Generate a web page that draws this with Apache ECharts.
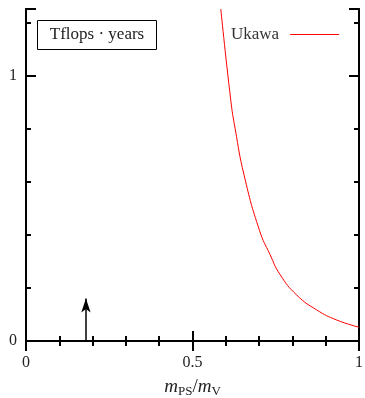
<!DOCTYPE html>
<html>
<head>
<meta charset="utf-8">
<script src="https://cdn.jsdelivr.net/npm/echarts@6/dist/echarts.min.js"></script>
<style>
  html, body { margin: 0; padding: 0; background: #fff; }
</style>
</head>
<body>
<div id="main" style="width: 365px; height: 398px;"></div>
<script>
// Ukawa cost curve (x = mPS/mV, y = Tflops*years)
var ukawaX = [0.585, 0.615, 0.628, 0.655, 0.701, 0.733, 0.763, 0.813, 0.873, 0.933, 1.0];
var ukawaY = [1.25, 0.906, 0.80, 0.624, 0.417, 0.325, 0.25, 0.173, 0.117, 0.079, 0.052];

// arrow marking the physical point
var arrowX = 0.18;
var arrowY = [0, 0.16];

var xLabels = [0, 0.5, 1];
var yLabels = [0, 1];

var serif = '"Liberation Serif", "DejaVu Serif", serif';

var myChart = echarts.init(document.getElementById('main'));

var ukawaData = [];
for (var i = 0; i < ukawaX.length; i++) {
    ukawaData.push([ukawaX[i], ukawaY[i]]);
}

function xFmt(v) {
    for (var i = 0; i < xLabels.length; i++) {
        if (Math.abs(v - xLabels[i]) < 1e-6) return String(xLabels[i]);
    }
    return '';
}
function yFmt(v) {
    for (var i = 0; i < yLabels.length; i++) {
        if (Math.abs(v - yLabels[i]) < 1e-6) return String(yLabels[i]);
    }
    return '';
}

var axisLine = { show: true, lineStyle: { color: '#000', width: 2 } };

var option = {
    animation: false,
    grid: { left: 26, width: 333, top: 9, height: 332, containLabel: false, outerBoundsMode: 'none' },
    legend: {
        data: [{ name: 'Ukawa', icon: 'rect' }],
        left: 226,
        top: 21,
        align: 'right',
        itemWidth: 49,
        itemHeight: 1.2,
        itemGap: 10,
        itemStyle: { color: '#ff0000' },
        lineStyle: { color: '#ff0000' },
        textStyle: { fontFamily: serif, fontSize: 17, color: '#333', padding: [0, 6, 0, 0] }
    },
    xAxis: [
        {
            type: 'value', position: 'bottom', min: 0, max: 1, interval: 0.5,
            axisLine: axisLine,
            axisTick: { inside: true, length: 10, lineStyle: { color: '#000', width: 2 } },
            minorTick: { show: true, splitNumber: 5, length: 5, lineStyle: { color: '#000', width: 2 } },
            splitLine: { show: false },
            axisLabel: { margin: 14, formatter: xFmt, fontFamily: serif, fontSize: 16, color: '#222' },
            name: '{i|m}{s|PS}{n|/}{i|m}{s|V}',
            nameLocation: 'middle',
            nameGap: 35,
            nameTextStyle: {
                rich: {
                    i: { fontFamily: serif, fontStyle: 'italic', fontSize: 19, color: '#222', lineHeight: 22 },
                    n: { fontFamily: serif, fontSize: 19, color: '#222', lineHeight: 22 },
                    s: { fontFamily: serif, fontSize: 13, color: '#222', lineHeight: 12, verticalAlign: 'bottom' }
                }
            }
        },
        {
            type: 'value', position: 'top', min: 0, max: 1, interval: 0.5,
            axisLine: axisLine,
            axisTick: { inside: true, length: 10, lineStyle: { color: '#000', width: 2 } },
            minorTick: { show: true, splitNumber: 5, length: 5, lineStyle: { color: '#000', width: 2 } },
            splitLine: { show: false },
            axisLabel: { show: false }
        }
    ],
    yAxis: [
        {
            type: 'value', position: 'left', min: 0, max: 1.25, interval: 0.2,
            axisLine: axisLine,
            axisTick: { inside: true, length: 5, lineStyle: { color: '#000', width: 2 } },
            splitLine: { show: false },
            axisLabel: { show: false }
        },
        {
            type: 'value', position: 'left', min: 0, max: 1.25, interval: 1,
            axisLine: axisLine,
            axisTick: { inside: true, length: 10, lineStyle: { color: '#000', width: 2 } },
            splitLine: { show: false },
            axisLabel: { margin: 9, formatter: yFmt, fontFamily: serif, fontSize: 16, color: '#222' }
        },
        {
            type: 'value', position: 'right', min: 0, max: 1.25, interval: 0.2,
            axisLine: axisLine,
            axisTick: { inside: true, length: 5, lineStyle: { color: '#000', width: 2 } },
            splitLine: { show: false },
            axisLabel: { show: false }
        },
        {
            type: 'value', position: 'right', min: 0, max: 1.25, interval: 1,
            axisLine: axisLine,
            axisTick: { inside: true, length: 10, lineStyle: { color: '#000', width: 2 } },
            splitLine: { show: false },
            axisLabel: { show: false }
        }
    ],
    graphic: [
        {
            type: 'rect',
            shape: { x: 37.5, y: 20.5, width: 119, height: 29 },
            style: { fill: '#fff', stroke: '#000', lineWidth: 1 },
            z: 10
        },
        {
            type: 'text',
            x: 97, y: 35,
            style: {
                text: 'Tflops \u00b7 years',
                fontFamily: serif, fontSize: 17, fill: '#222',
                align: 'center', verticalAlign: 'middle'
            },
            z: 11
        }
    ],
    series: [
        {
            name: 'Ukawa',
            type: 'line',
            xAxisIndex: 0,
            yAxisIndex: 0,
            data: ukawaData,
            smooth: 0.5,
            showSymbol: false,
            symbol: 'none',
            itemStyle: { color: '#ff0000' },
            lineStyle: { color: '#ff0000', width: 1 },
            markLine: {
                silent: true,
                symbol: ['none', 'arrow'],
                symbolSize: [7, 14],
                label: { show: false },
                lineStyle: { color: '#000', width: 1.5, type: 'solid' },
                data: [[
                    { coord: [arrowX, arrowY[0]] },
                    { coord: [arrowX, arrowY[1]] }
                ]]
            }
        }
    ]
};

myChart.setOption(option);
</script>
</body>
</html>
